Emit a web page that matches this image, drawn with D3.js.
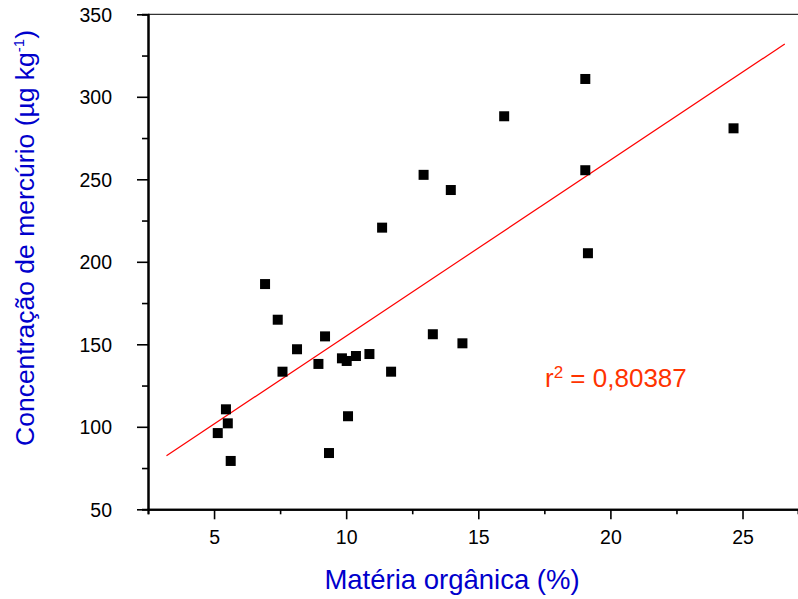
<!DOCTYPE html>
<html>
<head>
<meta charset="utf-8">
<script src="https://cdn.jsdelivr.net/npm/d3@7"></script>
<style>
  body { margin: 0; background: #fff; }
  svg { display: block; font-family: "Liberation Sans", Arial, Helvetica, sans-serif; }
</style>
</head>
<body>
<svg width="798" height="599"></svg>
<script>
// matéria orgânica (%) x mercúrio (µg/kg)
var materia = [5.14, 5.45, 5.52, 5.63, 6.93, 7.41, 7.59, 8.14, 8.95, 9.20, 9.35, 9.84, 10.02, 10.07,
  10.37, 10.88, 11.36, 11.70, 12.93, 13.28, 13.96, 14.40, 15.98, 19.05, 19.05, 19.15, 24.66]
var mercurio = [96.2, 110.6, 102.1, 79.3, 186.5, 164.9, 133.4, 147, 138.1, 154.8, 84.1, 141.5, 139.9, 106.4,
  142.9, 144.1, 220.7, 133.4, 252.7, 156.1, 243.5, 150.6, 288.2, 310.8, 255.5, 205.2, 280.9]

// reta de regressão (pontos extremos)
var retaX = [3.2, 26.6]
var retaY = [82.5, 332]

var xTicks = [5, 10, 15, 20, 25]
var xMinor = [2.5, 7.5, 12.5, 17.5, 22.5]
var yTicks = [50, 100, 150, 200, 250, 300, 350]
var yMinor = [75, 125, 175, 225, 275, 325]

var svg = d3.select("svg")

var x = d3.scaleLinear().domain([2.5, 27.1]).range([148, 798])
var y = d3.scaleLinear().domain([50, 350]).range([509.3, 14.3])

// linha de cima
svg.append("line")
  .attr("x1", x(2.5)).attr("x2", 798)
  .attr("y1", y(350)).attr("y2", y(350))
  .attr("stroke", "#000").attr("stroke-width", 1)

// eixos menores
svg.append("g")
  .attr("transform", "translate(0," + y(50) + ")")
  .call(d3.axisBottom(x).tickValues(xMinor).tickSize(5).tickFormat(""))
svg.append("g")
  .attr("transform", "translate(" + x(2.5) + ",0)")
  .call(d3.axisLeft(y).tickValues(yMinor).tickSize(6).tickFormat(""))

var gx = svg.append("g")
  .attr("transform", "translate(0," + y(50) + ")")
  .call(d3.axisBottom(x).tickValues(xTicks).tickSize(10).tickPadding(11).tickSizeOuter(0))
var gy = svg.append("g")
  .attr("transform", "translate(" + x(2.5) + ",0)")
  .call(d3.axisLeft(y).tickValues(yTicks).tickSize(11).tickPadding(25).tickSizeOuter(0))

svg.selectAll(".domain").attr("stroke", "#000").attr("stroke-width", 2)
svg.selectAll(".tick line").attr("stroke", "#000").attr("stroke-width", 1.6)
svg.selectAll(".tick text").attr("fill", "#000").style("font-size", "19.5px")
gy.selectAll(".tick text").attr("dy", "0.35em")

// reta
svg.append("line")
  .attr("x1", x(retaX[0])).attr("y1", y(retaY[0]))
  .attr("x2", x(retaX[1])).attr("y2", y(retaY[1]))
  .attr("stroke", "#ff0000").attr("stroke-width", 1.2)

// pontos
svg.selectAll("rect.pt")
  .data(materia)
  .enter().append("rect")
    .attr("class", "pt")
    .attr("x", function(d) { return x(d) - 5 })
    .attr("y", function(d, i) { return y(mercurio[i]) - 5 })
    .attr("width", 10)
    .attr("height", 10)
    .attr("fill", "#000")

// r2
var r2 = svg.append("text")
  .attr("x", 545).attr("y", 387)
  .attr("fill", "#ff3300")
  .style("font-size", "26px")
r2.append("tspan").text("r")
r2.append("tspan").text("2").attr("dy", -9).style("font-size", "17px")
r2.append("tspan").text(" = 0,80387").attr("dy", 9)

// títulos
svg.append("text")
  .attr("x", 452).attr("y", 589)
  .attr("text-anchor", "middle")
  .attr("fill", "#0000cc")
  .style("font-size", "27.5px")
  .text("Matéria orgânica (%)")

var yt = svg.append("text")
  .attr("transform", "translate(34,238) rotate(-90)")
  .attr("text-anchor", "middle")
  .attr("fill", "#0000cc")
  .style("font-size", "26.5px")
yt.append("tspan").text("Concentração de mercúrio (µg kg")
yt.append("tspan").text("-1").attr("dy", -10).style("font-size", "15px")
yt.append("tspan").text(")").attr("dy", 10)
</script>
</body>
</html>
